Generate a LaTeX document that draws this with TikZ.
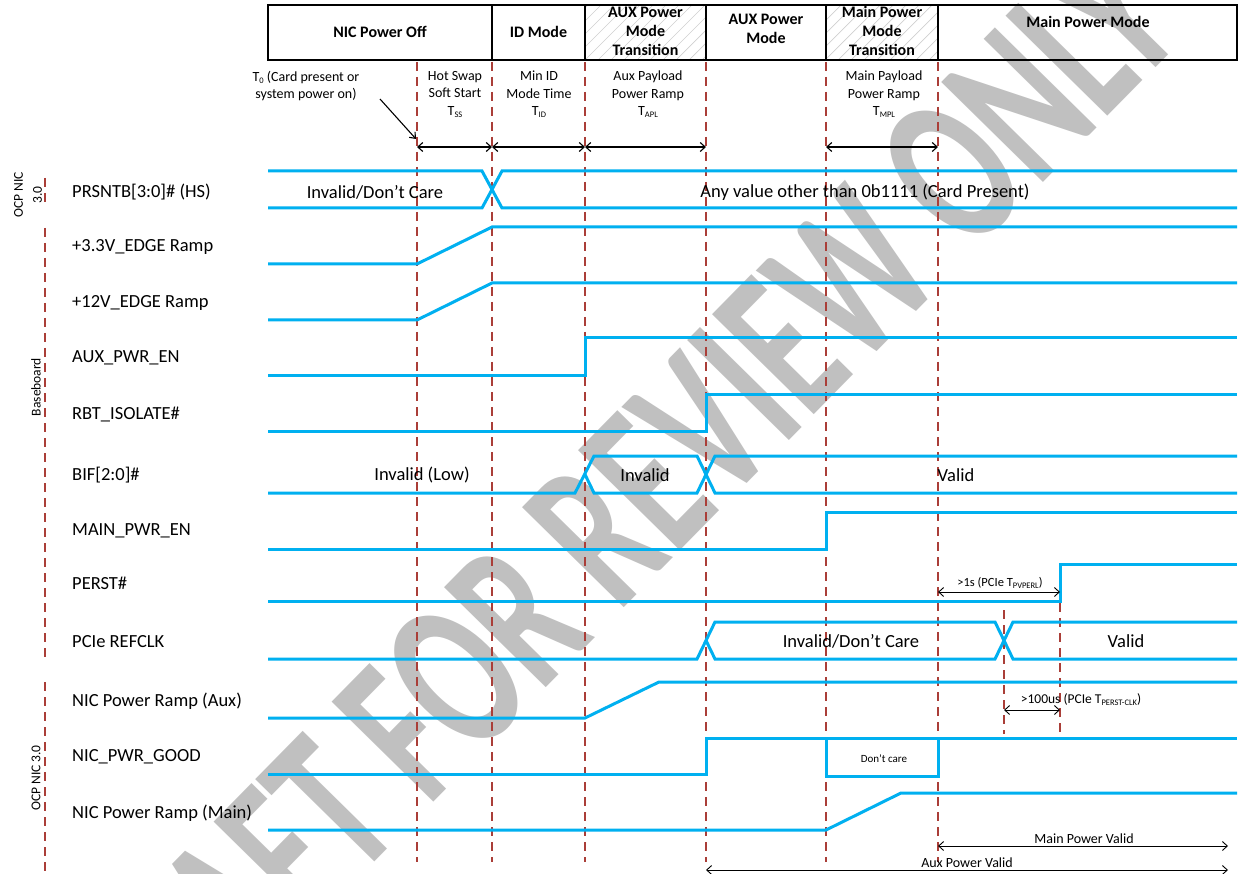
\documentclass[tikz,border=0pt]{standalone}
\usepackage{fontspec}
\setmainfont{Carlito}
\usetikzlibrary{arrows.meta}
\definecolor{sigc}{RGB}{0,176,240}
\definecolor{dred}{RGB}{170,62,56}
\definecolor{wmc}{RGB}{192,192,192}
\definecolor{hatchc}{RGB}{208,208,208}
\newcommand\lowsub[1]{\raisebox{-0.3ex}{\fontsize{8.5}{9}\selectfont #1}}
\begin{document}
\begin{tikzpicture}[x=1pt,y=-1pt,
  sig/.style={draw=sigc,line width=3pt,line join=miter},
  guide/.style={draw=dred,line width=1.3pt,dash pattern=on 9pt off 6pt},
  dimarrow/.style={draw=black,line width=1.1pt,{Straight Barb[length=5pt,width=9pt]}-{Straight Barb[length=5pt,width=9pt]}},
  lbl/.style={font=\fontsize{18.5}{20}\selectfont,anchor=west,inner sep=0},
  val/.style={font=\fontsize{18.5}{20}\selectfont,inner sep=0},
  hdr/.style={font=\bfseries\fontsize{16}{19}\selectfont,align=center,inner sep=0},
  note/.style={font=\fontsize{14}{17.5}\selectfont,align=center,inner sep=0,anchor=north},
  small/.style={font=\fontsize{12.5}{14}\selectfont,inner sep=0},
  side/.style={font=\fontsize{13.5}{19}\selectfont,align=center,inner sep=0,rotate=90},
  wmark/.style={text=wmc,font=\bfseries\fontsize{220}{220}\selectfont,inner sep=0,rotate=45.5}
]
\useasboundingbox (0,0) rectangle (1239,874);
\fill[white] (0,0) rectangle (1239,874);

% watermark
\node[wmark] (wm) at (609,522) {\scalebox{0.645}[1]{DRAFT FOR REVIEW ONLY}};

% header hatching
\begin{scope}
\clip (585,5) rectangle (706,60);
\foreach \i in {520,533,...,720} \draw[hatchc,line width=0.7pt] (\i,60) -- ++(55,-55);
\end{scope}
\begin{scope}
\clip (826,5) rectangle (938,60);
\foreach \i in {760,773,...,950} \draw[hatchc,line width=0.7pt] (\i,60) -- ++(55,-55);
\end{scope}
% header cells
\draw[line width=1.4pt] (268,5) rectangle (1237,60);
\foreach \x in {492,585,706,826,938} \draw[line width=1.4pt] (\x,5) -- (\x,60);
\node[hdr] (h1) at (380,32) {NIC Power Off};
\node[hdr] (h2) at (538.5,32) {ID Mode};
\node[hdr] (h3) at (645.5,31) {AUX Power\\Mode\\Transition};
\node[hdr] (h4) at (766,29) {AUX Power\\Mode};
\node[hdr] (h5) at (882,31) {Main Power\\Mode\\Transition};
\node[hdr] (h6) at (1088,22) {Main Power Mode};

% guide lines
\foreach \x in {417,492,585,706,826,938} \draw[guide] (\x,62) -- (\x,862);
\draw[guide] (1004,610) -- (1004,734);
\draw[guide] (1060,603) -- (1060,734);
\draw[guide] (45,178) -- (45,206);
\draw[guide] (45,228) -- (45,660);
\draw[guide] (45,682) -- (45,874);

% side labels
\node[side] (s1) at (28,195) {OCP NIC\\3.0};
\node[side] (s2) at (36,387) {Baseboard};
\node[side] (s3) at (36,778) {OCP NIC 3.0};

% annotations
\node[note] (n0) at (306,71) {T\lowsub{0} (Card present or\\system power on)};
\node[note] (n1) at (455,71) {Hot Swap\\Soft Start\\T\lowsub{SS}};
\node[note] (n2) at (539,71) {Min ID\\Mode Time\\T\lowsub{ID}};
\node[note] (n3) at (648,71) {Aux Payload\\Power Ramp\\T\lowsub{APL}};
\node[note] (n4) at (884,71) {Main Payload\\Power Ramp\\T\lowsub{MPL}};
\coordinate (t0start) at (380,99);
\coordinate (t0tip) at (416,139);
\draw[line width=1.1pt,-{Straight Barb[length=5pt,width=8pt]}] (t0start) -- (t0tip);

\coordinate (d1) at (417,147);
\coordinate (d2) at (492,147);
\coordinate (d3) at (585,147);
\coordinate (d4) at (706,147);
\coordinate (d5) at (826,147);
\coordinate (d6) at (938,147);
\draw[dimarrow] (d1) -- (d2);
\draw[dimarrow] (d2) -- (d3);
\draw[dimarrow] (d3) -- (d4);
\draw[dimarrow] (d5) -- (d6);

% signal labels
\node[lbl] (l1) at (72,192) {PRSNTB[3:0]\# (HS)};
\node[lbl] (l2) at (72,247) {+3.3V\_EDGE Ramp};
\node[lbl] (l3) at (72,303) {+12V\_EDGE Ramp};
\node[lbl] (l4) at (72,358) {AUX\_PWR\_EN};
\node[lbl] (l5) at (72,414) {RBT\_ISOLATE\#};
\node[lbl] (l6) at (72,475) {BIF[2:0]\#};
\node[lbl] (l7) at (72,531) {MAIN\_PWR\_EN};
\node[lbl] (l8) at (72,583) {PERST\#};
\node[lbl] (l9) at (72,642) {PCIe REFCLK};
\node[lbl] (l10) at (72,701) {NIC Power Ramp (Aux)};
\node[lbl] (l11) at (72,757) {NIC\_PWR\_GOOD};
\node[lbl] (l12) at (72,813) {NIC Power Ramp (Main)};

% PRSNTB
\draw[sig] (268,171) -- (482,171) -- (502,208) -- (1237,208);
\draw[sig] (268,208) -- (482,208) -- (502,171) -- (1237,171);
\node[val] (v1) at (375,192) {Invalid/Don’t Care};
\node[val] (v2) at (865,192) {Any value other than 0b1111 (Card Present)};
% +3.3V
\draw[sig] (268,264) -- (417,264) -- (492,227) -- (1237,227);
% +12V
\draw[sig] (268,320) -- (417,320) -- (492,283) -- (1237,283);
% AUX_PWR_EN
\draw[sig] (268,375) -- (585,375) -- (585,338) -- (1237,338);
% RBT_ISOLATE
\draw[sig] (268,431) -- (706,431) -- (706,394) -- (1237,394);
% BIF
\draw[sig] (268,493) -- (575,493) -- (594,456) -- (697,456) -- (715,493) -- (1237,493);
\draw[sig] (585,474.5) -- (594,493) -- (697,493) -- (715,456) -- (1237,456);
\node[val] (v3) at (422,475) {Invalid (Low)};
\node[val] (v4) at (645,475) {Invalid};
\node[val] (v5) at (956,475) {Valid};
% MAIN_PWR_EN
\draw[sig] (268,549) -- (826,549) -- (826,512) -- (1237,512);
% PERST
\draw[sig] (268,601) -- (1060,601) -- (1060,564) -- (1237,564);
\coordinate (p1) at (938,592);
\coordinate (p2) at (1060,592);
\draw[dimarrow,line width=0.9pt] (p1) -- (p2);
\node[small] (v6) at (1000,583) {>1s (PCIe T\lowsub{PVPERL})};
% PCIe REFCLK
\draw[sig] (268,659) -- (697,659) -- (715,622) -- (995,622) -- (1013,659) -- (1237,659);
\draw[sig] (706,640.5) -- (715,659) -- (995,659) -- (1013,622) -- (1237,622);
\node[val] (v7) at (851,641) {Invalid/Don’t Care};
\node[val] (v8) at (1126,641) {Valid};
% NIC Power Ramp Aux
\draw[sig] (268,718) -- (585,718) -- (659,682) -- (1237,682);
\coordinate (q1) at (1004,710);
\coordinate (q2) at (1060,710);
\draw[dimarrow,line width=0.9pt] (q1) -- (q2);
\node[small,font=\fontsize{13.5}{14}\selectfont] (v9) at (1081,700) {>100us (PCIe T\lowsub{PERST-CLK})};
% NIC_PWR_GOOD
\draw[sig] (268,774) -- (706,774) -- (706,738) -- (1237,738);
\draw[sig] (826,738) -- (826,776) -- (938,776) -- (938,738);
\node[small,font=\fontsize{11}{12}\selectfont] (v10) at (884,759) {Don’t care};
% NIC Power Ramp Main
\draw[sig] (268,830) -- (826,830) -- (901,793) -- (1237,793);
% validity arrows
\coordinate (m1) at (938,846);
\coordinate (m2) at (1228,846);
\coordinate (a1) at (706,870);
\coordinate (a2) at (1228,870);
\draw[dimarrow,line width=0.9pt] (m1) -- (m2);
\draw[dimarrow,line width=0.9pt] (a1) -- (a2);
\node[small,font=\fontsize{14}{15}\selectfont] (v11) at (1084,839) {Main Power Valid};
\node[small,font=\fontsize{14}{15}\selectfont] (v12) at (967,863) {Aux Power Valid};
\end{tikzpicture}
\end{document}
